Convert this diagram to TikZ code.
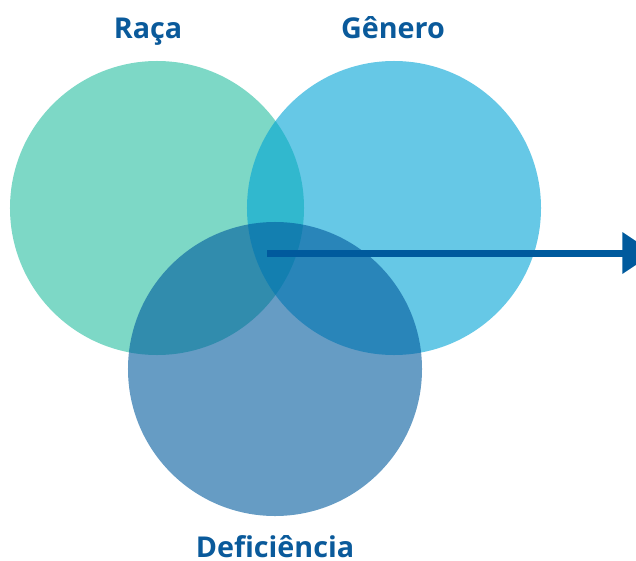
\documentclass[tikz,border=0pt]{standalone}
\usepackage{fontspec}
\setmainfont{Open Sans}
\usetikzlibrary{arrows.meta}
\definecolor{verde}{RGB}{38,190,160}
\definecolor{azulclaro}{RGB}{0,163,213}
\definecolor{azulescuro}{RGB}{0,90,157}
\definecolor{azultexto}{RGB}{10,90,155}

\begin{document}
\begin{tikzpicture}[x=0.03cm, y=-0.03cm,
	conjunto/.style={circle, inner sep=0pt, minimum size=8.82cm, fill opacity=0.6},
	rotulo/.style={text=azultexto, inner sep=0pt, anchor=base, font=\fontsize{24.5}{29}\selectfont\bfseries},
	seta/.style={draw=azulescuro, line width=7*0.03cm, -{Triangle[length=0.95cm, width=1.2cm]}}]
	%%%%% START %%%%%
	
	\useasboundingbox (0, 0) rectangle (636, 561);
	
	\node[conjunto, fill=verde] (raca) at (157, 208) {};
	\node[conjunto, fill=azulclaro] (genero) at (394, 208) {};
	\node[conjunto, fill=azulescuro] (deficiencia) at (275, 369) {};
	
	\node[rotulo] (rotraca) at (148, 38) {Raça};
	\node[rotulo] (rotgenero) at (393, 38) {Gênero};
	\node[rotulo] (rotdeficiencia) at (275, 557.5) {Deficiência};
	
	\coordinate (centro) at (267, 253);
	\coordinate (saida) at (654, 253);
	\draw[seta] (centro) -- (saida);
	
	%%%%% END %%%%%
\end{tikzpicture}
\end{document}
